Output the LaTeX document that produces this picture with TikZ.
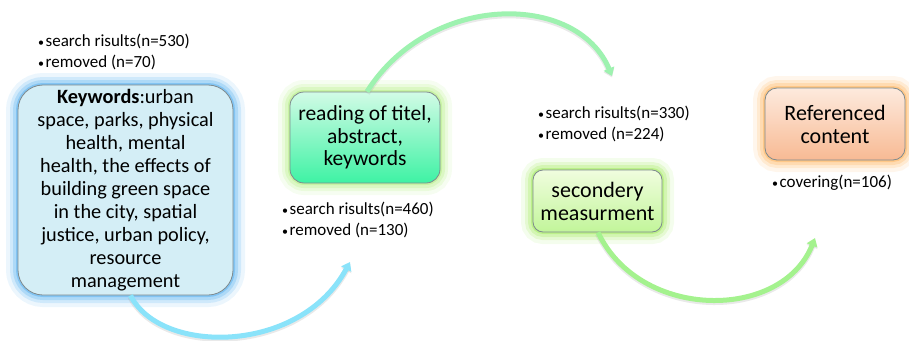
\documentclass[tikz,border=0pt]{standalone}
\usepackage{fontspec}
\setmainfont{Carlito}
\usetikzlibrary{arrows.meta,calc}
\definecolor{kwfill}{HTML}{D4EEF6}
\definecolor{kwglow}{HTML}{5FB4F0}
\definecolor{rdtop}{HTML}{D2FBE6}
\definecolor{rdbot}{HTML}{3EF2A4}
\definecolor{rdglow}{HTML}{B8F08A}
\definecolor{sctop}{HTML}{F0FDDE}
\definecolor{scbot}{HTML}{C2F59A}
\definecolor{scglow}{HTML}{A8EC68}
\definecolor{rftop}{HTML}{FDEADD}
\definecolor{rfbot}{HTML}{F8BA94}
\definecolor{rfglow}{HTML}{FFB866}
\definecolor{boxline}{HTML}{7E8A8E}
\definecolor{arcblue}{HTML}{8AE3FA}
\definecolor{arcgreen}{HTML}{9EF2B0}
\definecolor{arclime}{HTML}{A4F28E}
\tikzset{
  glowbox/.style={rounded corners=#1, draw=boxline, line width=0.8pt, align=center, inner sep=2pt},
  glowc/.style={preaction={draw=#1, line width=24pt, opacity=0.12},
                preaction={draw=#1, line width=16pt, opacity=0.2},
                preaction={draw=#1, line width=10pt, opacity=0.3},
                preaction={draw=#1, line width=4pt, opacity=0.55}},
  bullets/.style={anchor=west, align=left, font=\fontsize{17}{21}\selectfont, inner sep=0pt},
  flowarc/.style={line width=5pt, draw=#1, -{Triangle[width=11pt,length=8pt]},
                  preaction={draw=black!35, line width=6pt, opacity=0.25, transform canvas={yshift=-1.5pt}, -{Triangle[width=11pt,length=8pt]}}},
}
\newcommand{\bul}{{\fontsize{12}{12}\selectfont\textbullet}\hspace{1.5pt}}
\begin{document}
\begin{tikzpicture}[x=1pt,y=1pt]
\useasboundingbox (0,0) rectangle (909,-340);

% boxes
\node[glowbox=25pt, glowc=kwglow, fill=kwfill, minimum width=215pt, minimum height=210pt,
      font=\fontsize{20.3}{23}\selectfont] (kw) at (125.5,-190)
  {\textbf{Keywords}:urban\\ space, parks, physical\\ health, mental\\ health, the effects of\\ building green space\\ in the city, spatial\\ justice, urban policy,\\ resource\\ management};

\node[glowbox=14pt, glowc=rdglow, top color=rdtop, bottom color=rdbot, minimum width=150pt, minimum height=91pt,
      font=\fontsize{21.5}{22.5}\selectfont] (rd) at (365,-137.5)
  {reading of titel,\\ abstract,\\ keywords};

\node[glowbox=10pt, glowc=scglow, top color=sctop, bottom color=scbot, minimum width=129pt, minimum height=62pt,
      font=\fontsize{22}{23}\selectfont] (sc) at (597.5,-201)
  {secondery\\ measurment};

\node[glowbox=12pt, glowc=rfglow, top color=rftop, bottom color=rfbot, minimum width=140pt, minimum height=72pt,
      font=\fontsize{22}{23}\selectfont] (rf) at (835,-124)
  {Referenced\\ content};

% bullet lists
\node[bullets] (b1) at (38,-52) {\bul search risults(n=530)\\ \bul removed (n=70)};
\node[bullets] (b2) at (282,-220) {\bul search risults(n=460)\\ \bul removed (n=130)};
\node[bullets] (b3) at (538,-123.5) {\bul search risults(n=330)\\ \bul removed (n=224)};
\node[bullets] (b4) at (772,-183) {\bul covering(n=106)};

% arc end points
\coordinate (a1s) at ($(kw.south)+(5,0)$);
\coordinate (a1e) at (350,-262);
\coordinate (a2s) at ($(rd.north)+(2,0)$);
\coordinate (a2e) at (612,-76);
\coordinate (a3s) at ($(sc.south)+(0.5,0)$);
\coordinate (a3e) at (815,-238);

\draw[flowarc=arcblue] (a1s) .. controls (160,-355) and (300,-355) .. (a1e);
\draw[flowarc=arcgreen] (a2s) .. controls (430,8) and (577,8) .. (a2e);
\draw[flowarc=arclime] (a3s) .. controls (640,-321) and (782,-321) .. (a3e);
\end{tikzpicture}
\end{document}
